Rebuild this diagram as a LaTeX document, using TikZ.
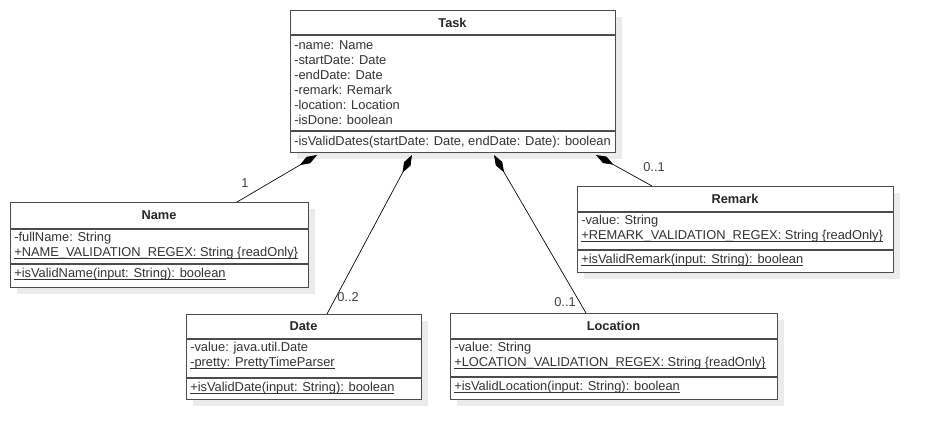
\documentclass[tikz,border=0pt]{standalone}
\usepackage{fontspec}
\setmainfont{Liberation Sans}
\usetikzlibrary{arrows.meta,shadows}
\tikzset{
classbox/.style={
	draw=black!70, line width=0.9pt, fill=white, anchor=north west,
	inner sep=0pt,
	drop shadow={shadow xshift=5pt, shadow yshift=-5pt, fill=black!8, opacity=1}},
classtitle/.style={font=\fontsize{9.6}{11.25}\selectfont\bfseries, text=black!85},
members/.style={anchor=north west, align=left, inner sep=0pt,
	font=\fontsize{9.65}{11.25}\selectfont, text=black!80},
rule/.style={draw=black!70, line width=0.9pt},
comp/.style={{Diamond[length=15pt,width=5.5pt]}-, line width=0.5pt},
mult/.style={font=\fontsize{9.65}{11.25}\selectfont, text=black!75, inner sep=0pt}
}
% a class: name, left, top, right, bottom, title line, member line
\newcommand{\umlclass}[7]{
	\node[classbox, minimum width={(#4-#2)*0.75pt}, minimum height={(#5-#3)*0.75pt}]
		(#1) at (#2,#3) {};
	\draw[rule] (#2,#6) -- (#4,#6);
	\draw[rule] (#2,#7) -- (#4,#7);
}
% static members, underlined close to the baseline
\newcommand{\ul}[1]{\setbox0\hbox{#1}\rlap{\rule[-1.6pt]{\wd0}{0.5pt}}\box0}

\begin{document}
\begin{tikzpicture}[x=0.75pt, y=-0.75pt]
	\useasboundingbox (0,0) rectangle (933,439);

	\umlclass{task}{290}{10}{615}{152}{35}{131}
	\node[classtitle] (taskT) at (452.5,22.5) {Task};
	\node[members] (taskA) at (294,40) {-name: Name\\-startDate: Date\\-endDate: Date\\
		-remark: Remark\\-location: Location\\-isDone: boolean};
	\node[members] (taskM) at (294,135.5) {-isValidDates(startDate: Date, endDate: Date): boolean};

	\umlclass{name}{10}{202}{308}{287}{229}{264}
	\node[classtitle] (nameT) at (159,215.5) {Name};
	\node[members] (nameA) at (14,232) {-fullName: String\\
		\ul{+NAME\_VALIDATION\_REGEX: String \{readOnly\}}};
	\node[members] (nameM) at (14,268) {\ul{+isValidName(input: String): boolean}};

	\umlclass{remark}{577}{186}{893}{272}{212}{250}
	\node[classtitle] (remarkT) at (735,199) {Remark};
	\node[members] (remarkA) at (581,215) {-value: String\\
		\ul{+REMARK\_VALIDATION\_REGEX: String \{readOnly\}}};
	\node[members] (remarkM) at (581,254) {\ul{+isValidRemark(input: String): boolean}};

	\umlclass{date}{186}{314}{421}{399}{339}{378}
	\node[classtitle] (dateT) at (303.5,326.5) {Date};
	\node[members] (dateA) at (190,342) {-value: java.util.Date\\
		\ul{-pretty: PrettyTimeParser}};
	\node[members] (dateM) at (190,382) {\ul{+isValidDate(input: String): boolean}};

	\umlclass{location}{450}{313}{777}{399}{339}{377}
	\node[classtitle] (locationT) at (613.5,326) {Location};
	\node[members] (locationA) at (454,342) {-value: String\\
		\ul{+LOCATION\_VALIDATION\_REGEX: String \{readOnly\}}};
	\node[members] (locationM) at (454,381) {\ul{+isValidLocation(input: String): boolean}};

	% composition ends
	\coordinate (tName) at (317,155);
	\coordinate (tDate) at (412,155);
	\coordinate (tLocation) at (494,155);
	\coordinate (tRemark) at (596,155);
	\coordinate (nName) at (237,202);
	\coordinate (nDate) at (327,314);
	\coordinate (nLocation) at (586,313);
	\coordinate (nRemark) at (652,186);

	\draw[comp] (tName) -- (nName);
	\draw[comp] (tDate) -- (nDate);
	\draw[comp] (tLocation) -- (nLocation);
	\draw[comp] (tRemark) -- (nRemark);

	\node[mult] (mName) at (245,183) {1};
	\node[mult] (mDate) at (348,297) {0..2};
	\node[mult] (mLocation) at (565,302) {0..1};
	\node[mult] (mRemark) at (654,167) {0..1};
\end{tikzpicture}
\end{document}
